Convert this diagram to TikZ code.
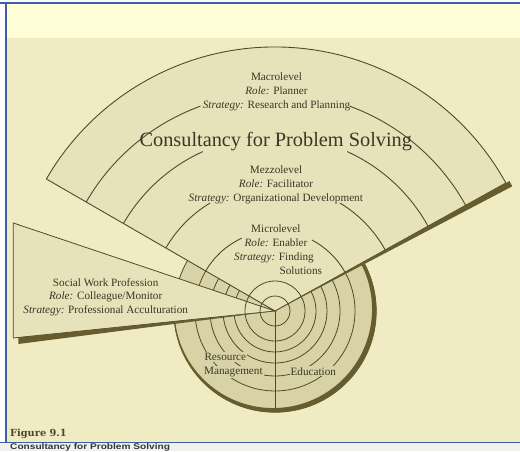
\documentclass[tikz,border=0pt]{standalone}
\usepackage{fontspec}
\setmainfont{Liberation Serif}
\newfontfamily\figfont{DejaVu Serif}
\newfontfamily\capfont[FakeStretch=1.22]{Liberation Sans}
\usetikzlibrary{calc}
\definecolor{pagebg}{HTML}{EFECC3}
\definecolor{topbg}{HTML}{FFFED6}
\definecolor{fanfill}{HTML}{E6E2B9}
\definecolor{diskfill}{HTML}{D8D3A7}
\definecolor{shadowcol}{HTML}{665D2F}
\definecolor{ink}{HTML}{4F4A2D}
\definecolor{txtcol}{HTML}{3A3726}
\definecolor{framecol}{HTML}{3C5DA8}
\definecolor{stripcol}{HTML}{F2F2EC}
\definecolor{figcol}{HTML}{4A4530}
\definecolor{capcol}{HTML}{2F3440}
\tikzset{
  arcln/.style={draw=ink, line width=0.9pt},
  ringln/.style={draw=ink, line width=0.8pt},
  lbl/.style={font=\fontsize{11.2}{13}\selectfont, text=txtcol, inner sep=0pt, anchor=base},
  disklbl/.style={font=\fontsize{11.2}{13}\selectfont, text=txtcol, inner sep=1pt, fill=diskfill},
  ttl/.style={font=\fontsize{20.3}{24}\selectfont, text=txtcol, inner sep=0pt, anchor=base},
  frameln/.style={draw=framecol, line width=2pt}
}
\begin{document}
\begin{tikzpicture}[x=1pt,y=1pt]
\useasboundingbox (0,0) rectangle (520,451);
% backgrounds
\fill[white] (0,0) rectangle (520,451);
\fill[stripcol] (0,0) rectangle (520,8);
\fill[pagebg] (6,8) rectangle (520,413);
\fill[topbg] (6,413) rectangle (520,448);
\coordinate (C) at (275,140);
% fan
\fill[fanfill] (C) -- ++(29:264) arc[start angle=29,end angle=150,radius=264] -- cycle;
% disk
\fill[diskfill] (C) -- ++(29:101) arc[start angle=29,end angle=-174.1,radius=101] -- cycle;
\fill[diskfill] (C) -- ++(150:101) arc[start angle=150,end angle=161.4,radius=101] -- cycle;
% wedge
\coordinate (WU) at (13.3,228);
\coordinate (WL) at (13.3,113);
\coordinate (WS1) at (18.3,113.5);
\coordinate (WS2) at (18.3,107);
\filldraw[fill=fanfill, draw=ink, line width=0.8pt] (C) -- (WU) -- (WL) -- cycle;
% rings
\foreach \r in {41,52,65,80,101}{
  \draw[ringln] (C) ++(29:\r) arc[start angle=29,end angle=-174.1,radius=\r];
  \draw[ringln] (C) ++(150:\r) arc[start angle=150,end angle=161.4,radius=\r];
}
\draw[ringln] (C) circle[radius=15];
\draw[ringln] (C) circle[radius=30];
\coordinate (B) at (275,39);
\draw[ringln] (C) -- (B);
% crescent rim
\begin{scope}
\clip (C) -- ++(29:115) arc[start angle=29,end angle=-174.1,radius=115] -- cycle;
\fill[shadowcol, even odd rule] (C) circle[radius=101.6] ($(C)+(-1.84,1.84)$) circle[radius=98.9];
\end{scope}
% fan arcs
\draw[arcln] (C) ++(29:264) arc[start angle=29,end angle=150,radius=264];
\draw[arcln] (C) ++(29:218) arc[start angle=29,end angle=70,radius=218];
\draw[arcln] (C) ++(110:218) arc[start angle=110,end angle=150,radius=218];
\draw[arcln] (C) ++(29:175) arc[start angle=29,end angle=65.6,radius=175];
\draw[arcln] (C) ++(114.4:175) arc[start angle=114.4,end angle=150,radius=175];
\draw[arcln] (C) ++(29:126) arc[start angle=29,end angle=59,radius=126];
\draw[arcln] (C) ++(121:126) arc[start angle=121,end angle=150,radius=126];
\draw[arcln] (C) ++(29:80) arc[start angle=29,end angle=62.5,radius=80];
\draw[arcln] (C) ++(114.6:80) arc[start angle=114.6,end angle=150,radius=80];
% fan edges
\coordinate (FL) at ($(C)+(150:264)$);
\coordinate (FR) at ($(C)+(29:264)$);
\coordinate (FRS1) at ($(C)+(29:268)$);
\coordinate (FRS2) at ($(C)+(29:268)+(-61:6)$);
\draw[arcln] (C) -- (FL);
\draw[arcln] (C) -- (FR);
\fill[shadowcol] (C) -- (FRS1) -- (FRS2) -- cycle;
\fill[shadowcol] (C) -- (WS1) -- (WS2) -- cycle;
% texts
\node[lbl] (macro) at (276.5,370.5) {Macrolevel};
\node[lbl] (macrorole) at (276.5,356) {\textit{Role:} Planner};
\node[lbl] (macrostrat) at (276.5,342) {\textit{Strategy:} Research and Planning};
\node[ttl] (title) at (275.8,305) {Consultancy for Problem Solving};
\node[lbl] (mezzo) at (276,277.5) {Mezzolevel};
\node[lbl] (mezzorole) at (276,263.5) {\textit{Role:} Facilitator};
\node[lbl] (mezzostrat) at (275.8,249.8) {\textit{Strategy:} Organizational Development};
\node[lbl] (micro) at (275.8,218.2) {Microlevel};
\node[lbl] (microrole) at (276,204.2) {\textit{Role:} Enabler};
\node[lbl] (microstrat) at (274,190.2) {\textit{Strategy:} Finding};
\node[lbl] (microsol) at (300.8,176.8) {Solutions};
\node[lbl] (swp) at (105.7,164.8) {Social Work Profession};
\node[lbl] (swprole) at (105.7,151.5) {\textit{Role:} Colleague/Monitor};
\node[lbl] (swpstrat) at (105.7,137.5) {\textit{Strategy:} Professional Acculturation};
\node[disklbl, anchor=base west] (res) at (203.3,90.2) {Resource};
\node[disklbl, anchor=base west] (mgmt) at (203,76.8) {Management};
\node[disklbl, anchor=base] (edu) at (313.3,75.8) {Education};
% frame
\draw[frameln] (0,448) -- (520,448);
\draw[frameln] (6,448) -- (6,8.5);
\draw[framecol, line width=1.8pt] (0,8.5) -- (520,8.5);
\node[anchor=base west, inner sep=0pt, text=figcol, font=\figfont\bfseries\fontsize{9.8}{11}\selectfont] (fig) at (10,15) {Figure 9.1};
\node[anchor=base west, inner sep=0pt, text=capcol, font=\capfont\bfseries\fontsize{8.3}{9}\selectfont] (cap) at (10,1.9) {Consultancy for Problem Solving};
\end{tikzpicture}
\end{document}
